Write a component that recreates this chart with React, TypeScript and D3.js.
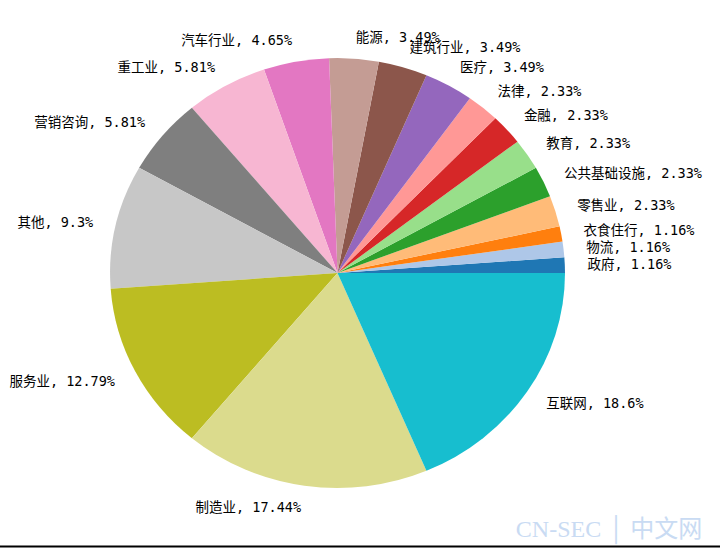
import { useEffect, useRef } from "react"
import * as d3 from "d3"

const categories = [
  "政府", "物流", "衣食住行", "零售业", "公共基础设施", "教育", "金融", "法律", "医疗",
  "建筑行业", "能源", "汽车行业", "重工业", "营销咨询", "其他", "服务业", "制造业", "互联网",
]
const counts = [1, 1, 1, 2, 2, 2, 2, 2, 3, 3, 3, 4, 5, 5, 8, 11, 15, 16]
const percents = [
  "1.16", "1.16", "1.16", "2.33", "2.33", "2.33", "2.33", "2.33", "3.49",
  "3.49", "3.49", "4.65", "5.81", "5.81", "9.3", "12.79", "17.44", "18.6",
]
const colors = [
  "#1f77b4", "#aec7e8", "#ff7f0e", "#ffbb78", "#2ca02c", "#98df8a", "#d62728", "#ff9896", "#9467bd",
  "#8c564b", "#c49c94", "#e377c2", "#f7b6d2", "#7f7f7f", "#c7c7c7", "#bcbd22", "#dbdb8d", "#17becf",
]

export default function App() {
  const svgRef = useRef<SVGSVGElement>(null)

  useEffect(() => {
    if (!svgRef.current) return
    const svg = d3.select(svgRef.current)
    svg.selectAll("*").remove()

    const width = 720
    const height = 548
    const cx = 337.5
    const cy = 273
    const rx = 227.5
    const ry = 215

    svg.attr("width", width).attr("height", height)

    // matplotlib style: start at 3 o'clock, go counterclockwise
    const pie = d3.pie<number>().sort(null).startAngle(Math.PI / 2).endAngle(Math.PI / 2 - 2 * Math.PI)
    const arcs = pie(counts)
    const arc = d3.arc<d3.PieArcDatum<number>>().innerRadius(0).outerRadius(1)

    svg
      .append("g")
      .attr("transform", `translate(${cx},${cy}) scale(${rx},${ry})`)
      .selectAll("path")
      .data(arcs)
      .enter()
      .append("path")
      .attr("d", (d) => arc(d) as string)
      .attr("fill", (d, i) => colors[i])

    // labels at 1.1 radius
    svg
      .append("g")
      .selectAll("text")
      .data(arcs)
      .enter()
      .append("text")
      .attr("x", (d) => cx + 1.1 * rx * Math.sin((d.startAngle + d.endAngle) / 2))
      .attr("y", (d) => cy - 1.1 * ry * Math.cos((d.startAngle + d.endAngle) / 2))
      .attr("text-anchor", (d) => (Math.sin((d.startAngle + d.endAngle) / 2) >= 0 ? "start" : "end"))
      .attr("dominant-baseline", "central")
      .attr("font-family", "'DejaVu Sans Mono', 'Noto Sans CJK SC', sans-serif")
      .attr("font-size", 13.5)
      .attr("fill", "#000")
      .text((d, i) => `${categories[i]}, ${percents[i]}%`)

    // watermark
    svg
      .append("text")
      .attr("x", 609)
      .attr("y", 537)
      .attr("text-anchor", "middle")
      .attr("font-family", "'Liberation Serif', 'Noto Sans CJK SC', serif")
      .attr("font-size", 24)
      .attr("fill", "#c9dbf3")
      .text("CN-SEC │ 中文网")

    // bottom rule
    svg
      .append("line")
      .attr("x1", 0)
      .attr("x2", width)
      .attr("y1", 546.5)
      .attr("y2", 546.5)
      .attr("stroke", "#000")
      .attr("stroke-width", 2)
  }, [])

  return <svg ref={svgRef} style={{ position: "absolute", left: 0, top: 0, background: "#fff" }} />
}
